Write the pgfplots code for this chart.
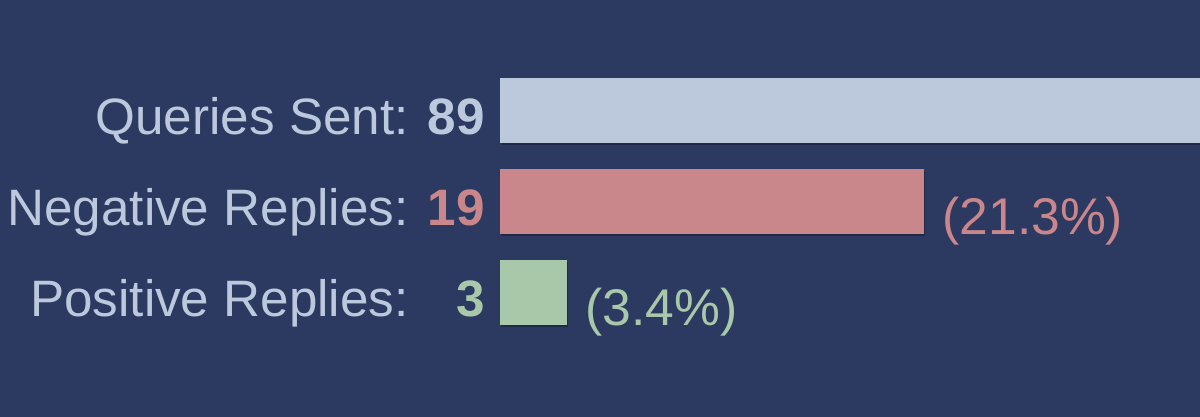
\documentclass[border=0pt]{standalone}
\usepackage{fontspec}
\setmainfont{Liberation Sans}
\usepackage{pgfplots}
\pgfplotsset{compat=1.18}
\usetikzlibrary{shadows}
\definecolor{bg}{HTML}{2C3961}
\definecolor{cq}{HTML}{BCC8DB}
\definecolor{cn}{HTML}{C9878B}
\definecolor{cp}{HTML}{A8C8A9}
\begin{document}
\begin{tikzpicture}[x=1pt,y=1pt]
\fill[bg] (0,0) rectangle (600,208.5);
\path[use as bounding box] (0,0) rectangle (600,208.5);
\begin{axis}[
  at={(250pt,0pt)}, anchor=south west,
  scale only axis, width=350pt, height=208.5pt,
  xbar, bar width=32.5pt, bar shift=0pt,
  xmin=0, xmax=31.36,
  ymin=-1.3626, ymax=3.2198,
  ytick={0,1,2},
  yticklabels={{Positive Replies: \textcolor{cp}{\textbf{\hphantom{8}3}}},{Negative Replies: \textcolor{cn}{\textbf{19}}},{Queries Sent: \textcolor{cq}{\textbf{89}}}},
  xtick=\empty,
  axis line style={draw=none},
  major tick length=0pt,
  yticklabel style={font=\fontsize{25.6}{30}\selectfont, color=cq, inner sep=0pt, anchor=base east, xshift=-7.5pt, yshift=-12pt},
  every node near coord/.append style={font=\fontsize{25.8}{30}\selectfont, inner sep=0pt, anchor=base west, xshift=9pt, yshift=-16.25pt},
]
\addplot[fill=cq, draw=none, drop shadow={shadow xshift=0.6pt, shadow yshift=-0.8pt, opacity=0.25, fill=black}] coordinates {(89,2)};
\addplot[fill=cn, draw=none, drop shadow={shadow xshift=0.6pt, shadow yshift=-0.8pt, opacity=0.25, fill=black}, nodes near coords={(21.3\%)}, every node near coord/.append style={color=cn}] coordinates {(19,1)};
\addplot[fill=cp, draw=none, drop shadow={shadow xshift=0.6pt, shadow yshift=-0.8pt, opacity=0.25, fill=black}, nodes near coords={(3.4\%)}, every node near coord/.append style={color=cp}] coordinates {(3,0)};
\end{axis}
\end{tikzpicture}
\end{document}
